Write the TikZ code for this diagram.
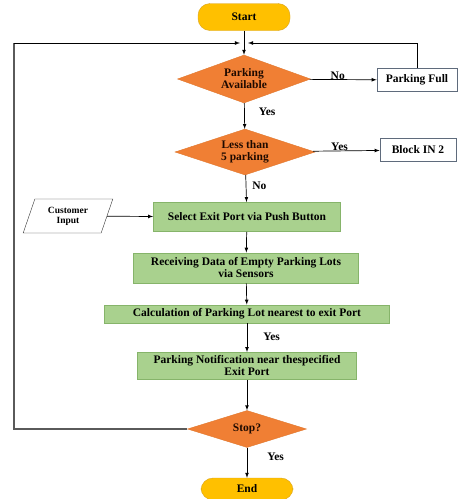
\documentclass[tikz,border=0pt]{standalone}
\usepackage{fontspec}
\setmainfont{Liberation Serif}
\usetikzlibrary{shapes.geometric}

\definecolor{termfill}{HTML}{FFC000}
\definecolor{termdraw}{HTML}{D9A21B}
\definecolor{decfill}{HTML}{F07F34}
\definecolor{decdraw}{HTML}{E0782E}
\definecolor{decfont}{HTML}{1E0A00}
\definecolor{procfill}{HTML}{A9D18E}
\definecolor{procdraw}{HTML}{86B46A}
\definecolor{outdraw}{HTML}{5F6B7C}
\definecolor{loopcol}{HTML}{5A5A5A}

\begin{document}
\begin{tikzpicture}[x=1pt,y=-1pt,>=latex]
\tikzstyle{txt}=[font=\fontsize{11.5}{12}\selectfont\bfseries,align=center,inner sep=1pt]
\tikzstyle{term}=[txt,rectangle,rounded corners=12pt,fill=termfill,draw=termdraw,minimum width=92pt,minimum height=27pt]
\tikzstyle{decision}=[txt,diamond,aspect=2.8,inner sep=0pt,fill=decfill,draw=decdraw,text=decfont]
\tikzstyle{process}=[txt,rectangle,fill=procfill,draw=procdraw,line width=0.8pt]
\tikzstyle{outbox}=[txt,rectangle,fill=white,draw=outdraw,line width=0.8pt,minimum height=23pt]
\tikzstyle{inbox}=[txt,trapezium,trapezium left angle=70,trapezium right angle=110,trapezium stretches=true,draw=black!80,minimum width=90pt,minimum height=34pt,font=\fontsize{9.5}{10}\selectfont\bfseries]
\tikzstyle{lbl}=[txt,inner sep=0pt]
\tikzstyle{flow}=[->,line width=0.7pt]
\tikzstyle{loop}=[line width=1.3pt,draw=loopcol]

\useasboundingbox (0,0) rectangle (463,499);

% ========= terminals
\node (start) [term] at(244,17) {Start};
\node (end) [term,minimum height=22pt] at(247,489) {End};

% ========= decisions
\node (avail) [decision,minimum width=133pt,minimum height=48pt] at(244,79) {Parking\\Available};
\node (less) [decision,minimum width=140pt,minimum height=46pt] at(245,152) {Less than\\5 parking};
\node (stop) [decision,minimum width=119pt,minimum height=37pt] at(247,429) {Stop?};

% ========= side boxes
\node (full) [outbox,minimum width=80pt] at(417,80) {Parking Full};
\node (block) [outbox,minimum width=76pt] at(418,150) {Block IN 2};
\node (input) [inbox] at(68,216) {Customer\\Input};

% ========= processes
\node (select) [process,minimum width=187pt,minimum height=29pt] at(247,217) {Select Exit Port via Push Button};
\node (recv) [process,minimum width=225pt,minimum height=30pt] at(246,268) {Receiving Data of Empty Parking Lots\\via Sensors};
\node (calc) [process,minimum width=285pt,minimum height=18pt] at(247,314) {Calculation of Parking Lot nearest to exit Port};
\node (notif) [process,minimum width=219pt,minimum height=27pt] at(247,366) {Parking Notification near thespecified\\Exit Port};

% ====== merge points of the loops
\coordinate (mergeL) at(240,43);
\coordinate (mergeR) at(248,43);
\coordinate (cornerT) at(14,43);

% ====== connections
\draw [flow] (start) -- (avail);
\draw [flow] (avail) -- node [lbl,above,pos=0.42] {No} (full);
\draw [flow] (avail) -- node [lbl,right=14pt,pos=0.35] {Yes} (less);
\draw [flow] (less) -- node [lbl,above,pos=0.4] {Yes} (block);
\draw [flow] (less) -- node [lbl,right=6pt,pos=0.4] {No} (select);
\draw [flow] (input) -- (select);
\draw [flow] (select) -- (recv);
\draw [flow] (recv) -- (calc);
\draw [flow] (calc) -- node [lbl,right=16pt,pos=0.45] {Yes} (notif);
\draw [flow] (notif) -- (stop);
\draw [flow] (stop) -- node [lbl,right=20pt,pos=0.3] {Yes} (end);
%% ===== loops back to the top
\draw [loop] (stop.west) -| (cornerT);
\draw [loop,->,line width=0.8pt,draw=black] (cornerT) -- (mergeL);
\draw [->,line width=0.8pt] (full.north) |- (mergeR);
\end{tikzpicture}
\end{document}
